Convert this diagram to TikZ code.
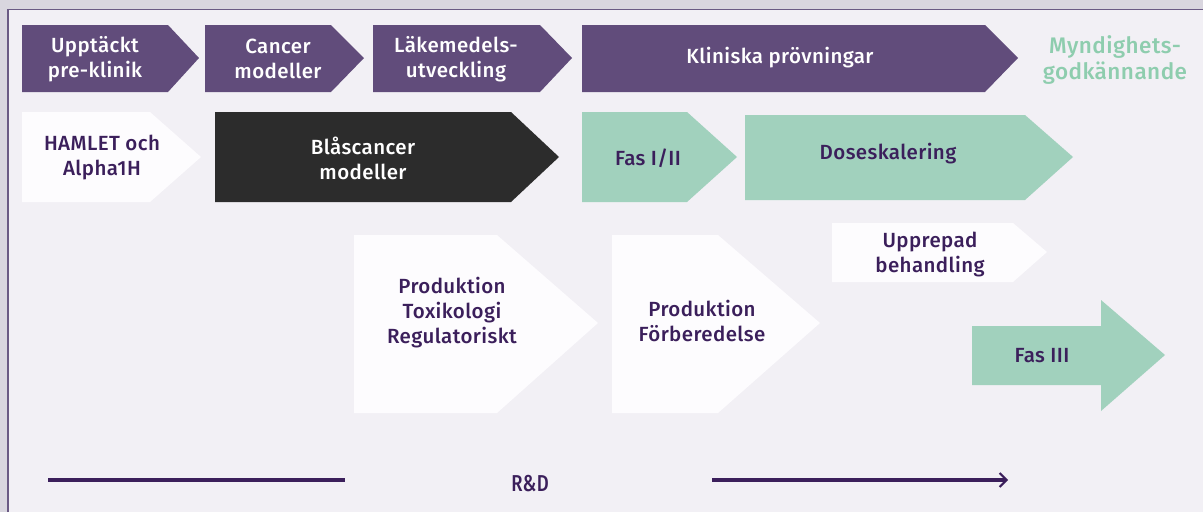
\documentclass[tikz,border=0pt]{standalone}
\usepackage{fontspec}
\setmainfont{Fira Sans}[UprightFont={* Medium}, LetterSpace=2]
\usetikzlibrary{arrows.meta}
\definecolor{bgc}{HTML}{F2F0F5}
\definecolor{band}{HTML}{D9D6DF}
\definecolor{frame}{HTML}{6A5A84}
\definecolor{plum}{HTML}{614C7B}
\definecolor{ink}{HTML}{3B1F5B}
\definecolor{mint}{HTML}{A1D1BD}
\definecolor{minttxt}{HTML}{8ECDAE}
\definecolor{paper}{HTML}{FDFCFE}
\definecolor{coal}{HTML}{2C2C2C}
\newcommand\chevshape[7]{% color, xl, yt, xr, xtip, yb, ytip
  \fill[#1] (#2,#3) -- (#4,#3) -- (#5,#7) -- (#4,#6) -- (#2,#6) -- cycle;}
\tikzset{
  lbl/.style={align=center, font=\fontsize{20.5}{25}\selectfont, inner sep=0pt},
  lblw/.style={lbl, text=white},
  lbli/.style={lbl, text=ink},
  rdline/.style={draw=ink, line width=3.6pt},
}
\begin{document}
\begin{tikzpicture}[x=1pt,y=-1pt]
\useasboundingbox (0,0) rectangle (1203,512);
\fill[bgc] (0,0) rectangle (1203,512);
\fill[band] (0,0) rectangle (1203,9);
\fill[band] (0,0) rectangle (8,512);
\draw[frame, line width=1.3pt] (8,512) -- (8,9.5) -- (1203,9.5);
% row 1
\chevshape{plum}{22}{25}{168}{199}{92}{58}
\node[lblw] (upp) at (95,59) {Upptäckt\\pre-klinik};
\chevshape{plum}{205}{25}{331}{364}{92}{58}
\node[lblw] (can) at (278,59) {Cancer\\modeller};
\chevshape{plum}{373}{25}{540}{572}{92}{58}
\node[lblw] (lak) at (456,59) {Läkemedels-\\utveckling};
\chevshape{plum}{582}{25}{985}{1018}{92}{58}
\node[lblw] (kli) at (780,58) {Kliniska prövningar};
\node[lbl, text=minttxt, font=\fontsize{22.5}{26}\selectfont] (myn) at (1115,60) {Myndighets-\\godkännande};
% row 2
\chevshape{paper}{22}{112}{150}{201}{202}{157}
\node[lbli] (ham) at (102,158) {HAMLET och\\Alpha1H};
\chevshape{coal}{215}{112}{511}{559}{202}{157}
\node[lblw] (bla) at (363,158) {Blåscancer\\modeller};
\chevshape{mint}{582}{112}{687}{737}{202}{157}
\node[lbli] (fas1) at (648,158) {Fas I/II};
\chevshape{mint}{745}{115}{1025}{1073}{200}{157}
\node[lbli] (dos) at (888,154) {Doseskalering};
% row 3
\chevshape{paper}{354}{235}{497}{598}{413}{323}
\node[lbli] (pt) at (452,313) {Produktion\\Toxikologi\\Regulatoriskt};
\chevshape{paper}{612}{235}{718}{820}{413}{323}
\node[lbli] (pf) at (702,321) {Produktion\\Förberedelse};
\chevshape{paper}{832}{223}{1013}{1047}{282}{252}
\node[lbli] (upr) at (930,254) {Upprepad\\behandling};
\fill[mint] (972,326) -- (1101,326) -- (1101,300) -- (1165,355) -- (1101,411) -- (1101,385) -- (972,385) -- cycle;
\node[lbli] (fas3) at (1042,356) {Fas III};
% R&D
\coordinate (l1a) at (48,480);
\coordinate (l1b) at (345,480);
\coordinate (l2a) at (712,480);
\coordinate (l2b) at (1008,480);
\draw[rdline] (l1a) -- (l1b);
\node[lbli, font=\fontsize{23}{25}\selectfont, xscale=0.8] (rd) at (530,484) {R\&D};
\draw[rdline, -{Straight Barb[length=7pt,width=14pt,line width=2pt]}] (l2a) -- (l2b);
\end{tikzpicture}
\end{document}
